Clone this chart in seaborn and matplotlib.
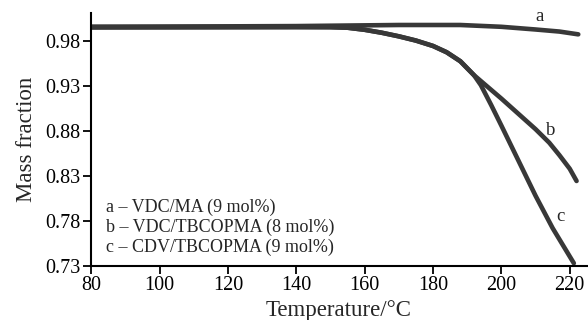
import pandas as pd
import matplotlib
matplotlib.use("Agg")
import matplotlib.pyplot as plt
import seaborn as sns

# curve a - VDC/MA (9 mol%)
temp_a = [80, 100, 120, 140, 155, 170, 188, 200, 210, 217, 222.5]
mass_a = [0.9960, 0.9961, 0.9963, 0.9966, 0.9972, 0.9978, 0.9978, 0.9958, 0.9928, 0.9905, 0.9874]

# curve b - VDC/TBCOPMA (8 mol%)
temp_b = [80, 100, 120, 140, 150, 155, 160, 165, 170, 175, 180, 184, 188, 192,
          196, 200, 205, 210, 214, 217, 220, 222]
mass_b = [0.9952, 0.9953, 0.9954, 0.9955, 0.9954, 0.9948, 0.9925, 0.9892, 0.9852, 0.9805,
          0.9745, 0.9675, 0.9575, 0.9420, 0.9290, 0.9160, 0.8990, 0.8820, 0.8670, 0.8530,
          0.8380, 0.8244]

# curve c - CDV/TBCOPMA (9 mol%)
temp_c = [80, 100, 120, 140, 150, 155, 160, 165, 170, 175, 180, 184, 188, 192,
          194, 197, 200, 205, 210, 215, 221.2]
mass_c = [0.9952, 0.9953, 0.9954, 0.9955, 0.9954, 0.9948, 0.9925, 0.9892, 0.9852, 0.9805,
          0.9745, 0.9675, 0.9575, 0.9420, 0.9310, 0.9090, 0.8860, 0.8470, 0.8080, 0.7720, 0.7330]

curve_names = ["a", "b", "c"]
legend_lines = ["a \u2013 VDC/MA (9 mol%)",
                "b \u2013 VDC/TBCOPMA (8 mol%)",
                "c \u2013 CDV/TBCOPMA (9 mol%)"]
x_ticks = [80, 100, 120, 140, 160, 180, 200, 220]
y_ticks = [0.73, 0.78, 0.83, 0.88, 0.93, 0.98]

df = pd.concat([
    pd.DataFrame({"temp": temp_a, "mass": mass_a, "curve": "a"}),
    pd.DataFrame({"temp": temp_b, "mass": mass_b, "curve": "b"}),
    pd.DataFrame({"temp": temp_c, "mass": mass_c, "curve": "c"}),
])

sns.set_style("ticks")
plt.rcParams["font.family"] = ["Liberation Serif", "DejaVu Serif"]

fig = plt.figure(figsize=(5.88, 3.2), dpi=100)
ax = fig.add_axes([0.155, 0.169, 0.843, 0.79])

line_color = "#383838"
sns.lineplot(data=df, x="temp", y="mass", hue="curve", sort=False,
             palette={k: line_color for k in curve_names}, linewidth=3.3,
             legend=False, ax=ax, estimator=None)

ax.set_xlim(80, 225)
ax.set_ylim(0.73, 1.011)
ax.set_xticks(x_ticks)
ax.set_yticks(y_ticks)
ax.set_yticklabels([f"{v:.2f}" for v in y_ticks])
ax.tick_params(axis="both", direction="out", length=6, width=1.3,
               labelsize=14.5, colors="black", pad=1.5)

for side in ["top", "right"]:
    ax.spines[side].set_visible(False)
for side in ["left", "bottom"]:
    ax.spines[side].set_linewidth(1.5)
    ax.spines[side].set_color("black")

ax.set_xlabel("Temperature/\u00b0C", fontsize=16.5, labelpad=3)
ax.set_ylabel("Mass fraction", fontsize=16.5, labelpad=6)

# curve tags
ax.text(211.3, 1.0067, "a", fontsize=13.5, ha="center", va="center")
ax.text(214.5, 0.880, "b", fontsize=13.5, ha="center", va="center")
ax.text(217.4, 0.7844, "c", fontsize=13.5, ha="center", va="center")

# key in lower left
for txt, yv in zip(legend_lines, [0.795, 0.7728, 0.7506]):
    ax.text(84.4, yv, txt, fontsize=13, ha="left", va="center")

fig.savefig("out.png", dpi=100)
